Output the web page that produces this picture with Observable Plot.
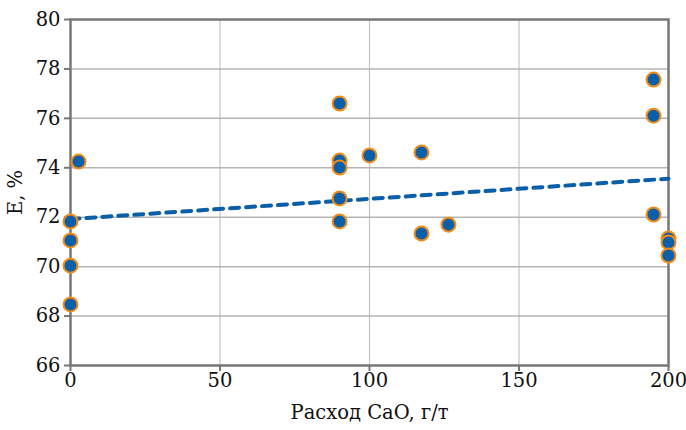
<!DOCTYPE html>
<html>
<head>
<meta charset="utf-8">
<script src="https://cdn.jsdelivr.net/npm/d3@7"></script>
<script src="https://cdn.jsdelivr.net/npm/@observablehq/plot@0.6"></script>
<style>
  html, body { margin: 0; padding: 0; background: #fff; }
  #chart svg { display: block; }
  #chart svg text { font-family: 'DejaVu Serif', 'Liberation Serif', serif !important; font-size: 19.5px !important; fill: #111; }
</style>
</head>
<body>
<div id="chart"></div>
<script>
// Data
const caoDose = [2.7, 0, 0, 0, 0, 90, 90, 90, 90, 90, 100, 117.4, 117.4, 126.4, 195, 195, 195, 200, 200, 200];
const extraction = [74.25, 71.83, 71.06, 70.04, 68.47, 76.6, 74.29, 74.01, 72.76, 71.83, 74.5, 74.62, 71.34, 71.7, 77.57, 76.11, 72.11, 71.14, 70.98, 70.45];
const xTicks = [0, 50, 100, 150, 200];
const yTicks = [66, 68, 70, 72, 74, 76, 78, 80];
const xLabel = "Расход CaO, г/т";
const yLabel = "E, %";

const data = caoDose.map((x, i) => ({x, y: extraction[i]}));

const chart = Plot.plot({
  width: 686,
  height: 430,
  marginLeft: 70,
  marginRight: 18,
  marginTop: 19,
  marginBottom: 65,
  style: {background: "#fff"},
  x: {domain: [0, 200]},
  y: {domain: [66, 80]},
  marks: [
    Plot.gridX(xTicks.slice(1, -1), {stroke: "#c4c4c4", strokeOpacity: 1, strokeWidth: 1.2}),
    Plot.gridY(yTicks.slice(1, -1), {stroke: "#b5b5b5", strokeOpacity: 1, strokeWidth: 1.5}),
    Plot.frame({stroke: "#777", strokeWidth: 2.5}),
    Plot.axisX({ticks: xTicks, tickSize: 6, tickPadding: 2, stroke: "#777", strokeWidth: 2,
      label: xLabel, labelAnchor: "center", labelArrow: "none", labelOffset: 53}),
    Plot.axisY({ticks: yTicks, tickSize: 6, tickPadding: 4, stroke: "#777", strokeWidth: 2,
      label: yLabel, labelAnchor: "center", labelArrow: "none", labelOffset: 62}),
    Plot.linearRegressionY(data, {x: "x", y: "y", ci: 0, stroke: "#0b5ea8", strokeWidth: 4, strokeDasharray: "9,7"}),
    Plot.dot(data, {x: "x", y: "y", r: 7, fill: "#0b5ea8", stroke: "#f08c1a", strokeWidth: 2})
  ]
});
document.getElementById("chart").appendChild(chart);
</script>
</body>
</html>
